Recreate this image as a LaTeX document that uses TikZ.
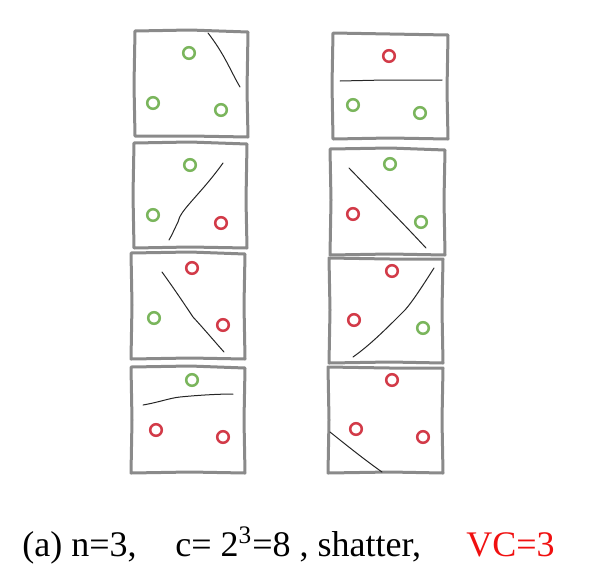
\documentclass[tikz,border=0pt]{standalone}
\usepackage{fontspec}
\setmainfont{Liberation Serif}
\definecolor{boxgray}{HTML}{8A8A8A}
\definecolor{ptgreen}{HTML}{7AB55C}
\definecolor{ptred}{HTML}{D23A48}
\definecolor{vcred}{HTML}{F01010}
\begin{document}
\begin{tikzpicture}[x=0.5pt,y=-0.5pt,
  frame/.style={draw=boxgray,line width=1.5pt,line join=round,line cap=round},
  sep/.style={draw=black!85,line width=0.5pt,line cap=round},
  gpt/.style={circle,draw=ptgreen,line width=1.25pt,minimum size=5.8pt,inner sep=0pt},
  rpt/.style={circle,draw=ptred,line width=1.25pt,minimum size=5.8pt,inner sep=0pt},
  captext/.style={font=\fontsize{18}{21}\selectfont,inner sep=0pt}]
\useasboundingbox (0,0) rectangle (604,584);
% left column
\draw[frame] (135,31) -- (190,30) -- (248,32) -- (247,90) -- (248,137) -- (190,136) -- (135,136) -- (134,85) -- cycle;
\draw[frame] (134,143) -- (190,142) -- (247,144) -- (246,200) -- (247,248) -- (190,247) -- (134,248) -- (133,195) -- cycle;
\draw[frame] (131,253) -- (190,252) -- (245,254) -- (244,305) -- (245,359) -- (190,358) -- (131,359) -- (132,305) -- cycle;
\draw[frame] (131,367) -- (190,366) -- (245,368) -- (244,420) -- (245,473) -- (190,472) -- (131,473) -- (132,420) -- cycle;
% right column
\draw[frame] (333,33) -- (390,34) -- (448,35) -- (447,90) -- (448,139) -- (390,138) -- (333,139) -- (332,85) -- cycle;
\draw[frame] (330,149) -- (390,148) -- (445,150) -- (444,200) -- (445,255) -- (390,254) -- (330,255) -- (331,200) -- cycle;
\draw[frame] (329,258) -- (390,259) -- (443,259) -- (442,310) -- (443,363) -- (390,362) -- (329,363) -- (330,310) -- cycle;
\draw[frame] (328,367) -- (390,368) -- (443,368) -- (442,420) -- (443,473) -- (390,472) -- (328,473) -- (329,420) -- cycle;
% separators
\draw[sep] (208,33) .. controls (225,55) and (230,70) .. (240,87);
\draw[sep] (223,163) .. controls (200,195) and (180,210) .. (178,222) .. controls (174,230) and (172,235) .. (169,240);
\draw[sep] (162,272) .. controls (175,290) and (185,305) .. (193,317) .. controls (205,330) and (215,342) .. (224,352);
\draw[sep] (143,405) .. controls (160,402) and (170,398) .. (180,397) .. controls (200,395) and (220,394) .. (233,394);
\draw[sep] (340,81) -- (385,80) -- (442,80);
\draw[sep] (349,168) .. controls (375,195) and (400,220) .. (426,248);
\draw[sep] (434,268) .. controls (420,290) and (412,302) .. (405,310) .. controls (385,330) and (370,345) .. (353,357);
\draw[sep] (330,432) .. controls (350,448) and (365,460) .. (382,472);
% points
\node[gpt] (l1a) at (189,53) {};
\node[gpt] (l1b) at (153,103) {};
\node[gpt] (l1c) at (221,110) {};
\node[gpt] (l2a) at (190,165) {};
\node[gpt] (l2b) at (153,215) {};
\node[rpt] (l2c) at (221,223) {};
\node[rpt] (l3a) at (192,268) {};
\node[gpt] (l3b) at (154,318) {};
\node[rpt] (l3c) at (223,325) {};
\node[gpt] (l4a) at (192,380) {};
\node[rpt] (l4b) at (156,430) {};
\node[rpt] (l4c) at (223,437) {};
\node[rpt] (r1a) at (389,56) {};
\node[gpt] (r1b) at (353,105) {};
\node[gpt] (r1c) at (420,113) {};
\node[gpt] (r2a) at (390,164) {};
\node[rpt] (r2b) at (353,214) {};
\node[gpt] (r2c) at (421,222) {};
\node[rpt] (r3a) at (392,271) {};
\node[rpt] (r3b) at (354,320) {};
\node[gpt] (r3c) at (423,328) {};
\node[rpt] (r4a) at (392,380) {};
\node[rpt] (r4b) at (356,429) {};
\node[rpt] (r4c) at (423,437) {};
% caption
\node[captext,anchor=base west] (c1) at (22,556) {(a) n=3,};
\node[captext,anchor=base west] (c2) at (175,556) {c= 2\textsuperscript{3}=8 , shatter,};
\node[captext,anchor=base east,text=vcred] (c3) at (555,556) {VC=3};
\end{tikzpicture}
\end{document}
